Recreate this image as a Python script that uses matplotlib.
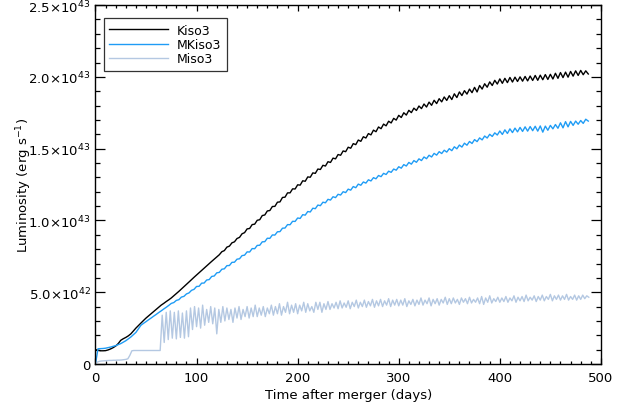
import numpy as np
import matplotlib
matplotlib.use('Agg')
import matplotlib.pyplot as plt
from matplotlib.ticker import MultipleLocator, FixedLocator, FixedFormatter

# luminosities in units of 1e42 erg/s
# Kiso3 and MKiso3 are read every 2.5 days, Miso3 every 2 days
t_k = np.arange(0, 490, 2.5)
t_m = np.arange(0, 490, 2.0)

kiso3 = [
    1.0, 0.96, 0.92, 0.92, 0.93, 0.98, 1.05, 1.14, 1.25, 1.42,
    1.65, 1.76, 1.85, 1.96, 2.1, 2.3, 2.5, 2.68, 2.85, 3.03,
    3.2, 3.35, 3.5, 3.65, 3.8, 3.95, 4.1, 4.22, 4.35, 4.47,
    4.6, 4.75, 4.9, 5.06, 5.22, 5.39, 5.55, 5.71, 5.88, 6.04,
    6.2, 6.36, 6.53, 6.69, 6.85, 7.0, 7.15, 7.3, 7.45, 7.61,
    7.82, 7.90, 8.14, 8.21, 8.44, 8.51, 8.74, 8.82, 9.07, 9.15,
    9.41, 9.44, 9.71, 9.74, 10.01, 10.05, 10.34, 10.38, 10.66, 10.69,
    10.97, 10.98, 11.27, 11.29, 11.60, 11.62, 11.92, 11.92, 12.20, 12.19,
    12.48, 12.46, 12.76, 12.73, 13.03, 13.01, 13.31, 13.28, 13.58, 13.55,
    13.84, 13.79, 14.09, 14.04, 14.34, 14.29, 14.59, 14.54, 14.84, 14.79,
    15.1, 15.03, 15.35, 15.28, 15.6, 15.51, 15.83, 15.74, 16.05, 15.96,
    16.29, 16.18, 16.51, 16.39, 16.71, 16.59, 16.91, 16.79, 17.11, 16.99,
    17.32, 17.17, 17.5, 17.34, 17.67, 17.51, 17.82, 17.66, 17.97, 17.79,
    18.11, 17.9, 18.24, 18.02, 18.37, 18.14, 18.48, 18.26, 18.6, 18.36,
    18.69, 18.42, 18.82, 18.56, 18.95, 18.7, 19.04, 18.8, 19.15, 18.9,
    19.27, 18.95, 19.4, 19.15, 19.52, 19.28, 19.65, 19.4, 19.76, 19.5,
    19.86, 19.55, 19.9, 19.6, 19.96, 19.64, 19.98, 19.68, 20.0, 19.7,
    20.03, 19.72, 20.06, 19.75, 20.1, 19.76, 20.12, 19.8, 20.16, 19.82,
    20.18, 19.85, 20.25, 19.9, 20.3, 19.95, 20.33, 19.98, 20.38, 20.05,
    20.42, 20.1, 20.45, 20.15, 20.42, 20.2,
]

mkiso3 = [
    0.0, 1.06, 1.07, 1.08, 1.1, 1.14, 1.18, 1.23, 1.28, 1.35,
    1.42, 1.52, 1.62, 1.75, 1.88, 2.04, 2.2, 2.45, 2.7, 2.83,
    2.95, 3.08, 3.2, 3.33, 3.45, 3.58, 3.7, 3.83, 3.95, 4.08,
    4.22, 4.28, 4.43, 4.48, 4.66, 4.71, 4.88, 4.95, 5.13, 5.2,
    5.4, 5.41, 5.63, 5.64, 5.85, 5.88, 6.1, 6.13, 6.35, 6.38,
    6.6, 6.63, 6.85, 6.86, 7.08, 7.09, 7.3, 7.33, 7.55, 7.58,
    7.81, 7.8, 8.04, 8.03, 8.26, 8.27, 8.51, 8.52, 8.76, 8.75,
    8.99, 8.98, 9.21, 9.22, 9.46, 9.47, 9.71, 9.7, 9.94, 9.93,
    10.17, 10.14, 10.4, 10.37, 10.62, 10.59, 10.85, 10.82, 11.07, 11.03,
    11.27, 11.23, 11.47, 11.42, 11.65, 11.59, 11.82, 11.77, 12.0, 11.94,
    12.18, 12.11, 12.36, 12.28, 12.53, 12.45, 12.68, 12.6, 12.83, 12.75,
    12.98, 12.9, 13.13, 13.05, 13.28, 13.2, 13.43, 13.35, 13.58, 13.5,
    13.74, 13.64, 13.89, 13.79, 14.04, 13.92, 14.17, 14.05, 14.29, 14.17,
    14.42, 14.3, 14.54, 14.42, 14.67, 14.55, 14.79, 14.66, 14.89, 14.76,
    15.0, 14.86, 15.13, 14.99, 15.25, 15.11, 15.38, 15.24, 15.5, 15.36,
    15.63, 15.49, 15.75, 15.61, 15.88, 15.74, 16.0, 15.85, 16.1, 15.95,
    16.23, 15.99, 16.31, 16.06, 16.38, 16.12, 16.43, 16.17, 16.48, 16.2,
    16.52, 16.22, 16.54, 16.25, 16.56, 16.22, 16.58, 16.15, 16.57, 16.28,
    16.62, 16.38, 16.68, 16.42, 16.8, 16.45, 16.88, 16.52, 16.9, 16.62,
    16.92, 16.7, 16.96, 16.76, 17.05, 16.92,
]

miso3 = [
    0.0, 0.14, 0.19, 0.21, 0.22, 0.23, 0.24, 0.25, 0.25, 0.26,
    0.26, 0.27, 0.27, 0.28, 0.3, 0.32, 0.36, 0.6, 0.92, 0.94,
    0.94, 0.94, 0.94, 0.94, 0.94, 0.94, 0.94, 0.94, 0.94, 0.94,
    0.94, 0.94, 0.94, 3.4, 1.5, 3.6, 1.7, 3.7, 1.8, 3.6,
    1.75, 3.7, 1.85, 3.55, 1.8, 3.7, 1.9, 3.9, 2.4, 4.0,
    2.6, 3.9, 2.5, 4.1, 2.7, 3.8, 2.9, 4.0, 2.8, 3.9,
    2.1, 3.8, 2.9, 4.0, 3.0, 3.9, 3.1, 3.8, 2.9, 3.9,
    3.2, 4.0, 3.1, 3.8, 3.3, 4.0, 3.2, 3.9, 3.3, 4.1,
    3.3, 3.9, 3.4, 4.0, 3.3, 3.9, 3.5, 4.1, 3.4, 4.0,
    3.5, 4.2, 3.4, 4.0, 3.6, 4.3, 3.5, 4.1, 3.6, 4.2,
    3.5, 4.1, 3.7, 4.3, 3.6, 4.2, 3.7, 4.0, 3.6, 4.3,
    3.8, 4.3, 3.6, 4.2, 3.8, 4.35, 3.8, 4.2, 3.9, 4.3,
    3.85, 4.4, 3.9, 4.25, 3.95, 4.4, 3.85, 4.3, 4.0, 4.45,
    3.9, 4.3, 4.0, 4.45, 3.95, 4.35, 4.05, 4.5, 3.95, 4.4,
    4.05, 4.5, 4.0, 4.4, 4.1, 4.55, 4.0, 4.45, 4.1, 4.5,
    4.05, 4.45, 4.1, 4.55, 4.0, 4.4, 4.15, 4.5, 4.05, 4.45,
    4.15, 4.6, 4.1, 4.45, 4.2, 4.6, 4.05, 4.5, 4.2, 4.55,
    4.1, 4.5, 4.25, 4.65, 4.15, 4.55, 4.2, 4.6, 4.25, 4.5,
    4.15, 4.6, 4.3, 4.55, 4.2, 4.65, 4.25, 4.5, 4.3, 4.6,
    4.2, 4.7, 4.15, 4.6, 4.3, 4.75, 4.25, 4.55, 4.35, 4.65,
    4.3, 4.6, 4.35, 4.7, 4.3, 4.6, 4.4, 4.75, 4.3, 4.65,
    4.4, 4.7, 4.35, 4.8, 4.4, 4.65, 4.45, 4.75, 4.35, 4.7,
    4.45, 4.8, 4.4, 4.7, 4.5, 4.85, 4.4, 4.75, 4.5, 4.8,
    4.45, 4.75, 4.5, 4.85, 4.45, 4.7, 4.5, 4.8, 4.45, 4.75,
    4.5, 4.8, 4.55, 4.75, 4.65,
]

ytick_vals = [0, 5, 10, 15, 20, 25]
ytick_labels = ['0', r'5.0$\times$10$^{42}$', r'1.0$\times$10$^{43}$',
                r'1.5$\times$10$^{43}$', r'2.0$\times$10$^{43}$', r'2.5$\times$10$^{43}$']

plt.rcParams['font.family'] = 'DejaVu Sans'
plt.rcParams['mathtext.fontset'] = 'dejavusans'

fig = plt.figure(figsize=(6.24, 4.06), dpi=100)
ax = fig.add_axes([0.153, 0.101, 0.81, 0.884])

ax.plot(t_k, kiso3, color='black', lw=1.0, label='Kiso3')
ax.plot(t_k, mkiso3, color='#1f9cf5', lw=1.0, label='MKiso3')
ax.plot(t_m, miso3, color='#b4c8e2', lw=1.0, label='Miso3')

ax.set_xlim(0, 500)
ax.set_ylim(0, 25)
ax.xaxis.set_major_locator(MultipleLocator(100))
ax.xaxis.set_minor_locator(MultipleLocator(10))
ax.yaxis.set_major_locator(FixedLocator(ytick_vals))
ax.yaxis.set_major_formatter(FixedFormatter(ytick_labels))
ax.yaxis.set_minor_locator(MultipleLocator(1))

ax.tick_params(axis='both', which='both', direction='in', top=True, right=True,
               labelsize=9.5, width=0.9)
ax.tick_params(axis='x', which='major', length=4.5, pad=5)
ax.tick_params(axis='x', which='minor', length=2.3)
ax.tick_params(axis='y', which='major', length=7)
ax.tick_params(axis='y', which='minor', length=3.6)
for s in ax.spines.values():
    s.set_linewidth(1.0)

ax.set_xlabel('Time after merger (days)', fontsize=9.5, labelpad=3)
ax.set_ylabel(r'Luminosity (erg s$^{-1}$)', fontsize=9.5)
ax.yaxis.set_label_coords(-0.122, 0.5)

leg = ax.legend(loc='upper left', bbox_to_anchor=(0.016, 0.964), fontsize=9,
                frameon=True, fancybox=False, edgecolor='black',
                handlelength=4.7, handletextpad=0.7, borderaxespad=0,
                labelspacing=0.1, borderpad=0.45)
leg.get_frame().set_linewidth(0.9)

plt.savefig('out.png', dpi=100)
